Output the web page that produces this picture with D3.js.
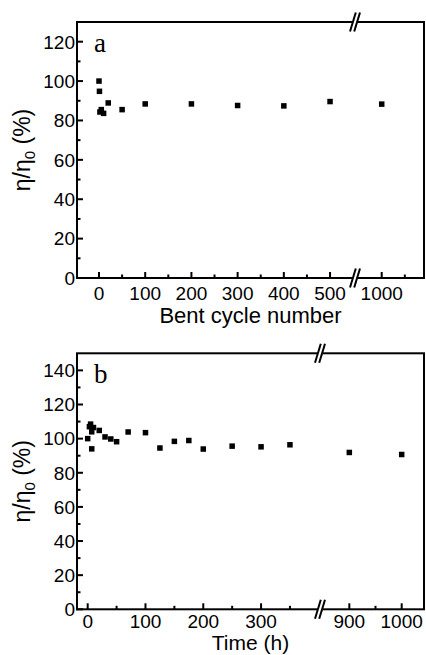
<!DOCTYPE html>
<html><head><meta charset="utf-8">
<script src="https://cdn.jsdelivr.net/npm/d3@7"></script>
<style>body{margin:0;background:#fff}svg{display:block}</style>
</head><body>
<svg id="c" width="426" height="655"></svg>
<script>
// Panel a data
const cyclesA = [0, 1, 2, 5, 10, 20, 50, 100, 200, 300, 400, 500, 1000];
const valuesA = [100, 94.8, 84.3, 85.5, 83.6, 88.9, 85.5, 88.4, 88.4, 87.6, 87.4, 89.6, 88.3];
const majorTicksXA = [0, 100, 200, 300, 400, 500, 1000];
const minorTicksXA = [50, 150, 250, 350, 450, 1050];
const majorTicksYA = [0, 20, 40, 60, 80, 100, 120];
const minorTicksYA = [10, 30, 50, 70, 90, 110];

// Panel b data
const timesB = [0, 3, 5, 7, 7, 10, 20, 30, 40, 50, 70, 100, 125, 150, 175, 200, 250, 300, 350, 900, 1000];
const valuesB = [100, 107, 108.5, 104, 94, 106.5, 104.8, 101, 99.8, 98.2, 103.9, 103.5, 94.5, 98.4, 98.9, 93.9, 95.6, 95.2, 96.4, 91.9, 90.7];
const majorTicksXB = [0, 100, 200, 300, 900, 1000];
const minorTicksXB = [50, 150, 250, 350, 950];
const majorTicksYB = [0, 20, 40, 60, 80, 100, 120, 140];
const minorTicksYB = [10, 30, 50, 70, 90, 110, 130];

const svg = d3.select("#c");
const FONT = "'Liberation Sans', Arial, sans-serif";

function panel(o) {
  const g = svg.append("g");
  const x = d3.scaleLinear().domain(o.xDomain).range(o.xRange);
  const y = d3.scaleLinear().domain(o.yDomain).range([o.bottom, o.top]);
  const L = o.xRange[0], R = o.xRange[o.xRange.length - 1], T = o.top, B = o.bottom;
  const brk = o.xRange[1];

  // ticks (inward)
  const tk = g.append("g").attr("stroke", "#000").attr("stroke-width", 2);
  o.majorX.forEach(v => tk.append("line").attr("x1", x(v)).attr("x2", x(v)).attr("y1", B).attr("y2", B - 6));
  o.minorX.forEach(v => tk.append("line").attr("x1", x(v)).attr("x2", x(v)).attr("y1", B).attr("y2", B - 3.5));
  o.majorY.forEach(v => tk.append("line").attr("x1", L - 1).attr("x2", L + 6).attr("y1", y(v)).attr("y2", y(v)));
  o.minorY.forEach(v => tk.append("line").attr("x1", L).attr("x2", L + 3.5).attr("y1", y(v)).attr("y2", y(v)));

  // frame
  g.append("rect").attr("x", L).attr("y", T).attr("width", R - L).attr("height", B - T)
    .attr("fill", "none").attr("stroke", "#000").attr("stroke-width", 2);

  // break marks
  [T, B].forEach(yy => {
    const dx = 2.9, dy = 9.5, off = 2.1;
    g.append("polygon")
      .attr("points", [[brk - off - dx, yy + dy], [brk - off + dx, yy - dy], [brk + off + dx, yy - dy], [brk + off - dx, yy + dy]].map(p => p.join(",")).join(" "))
      .attr("fill", "#fff");
    [-off, off].forEach(d => g.append("line")
      .attr("x1", brk + d - dx).attr("y1", yy + dy).attr("x2", brk + d + dx).attr("y2", yy - dy)
      .attr("stroke", "#000").attr("stroke-width", 2));
  });

  // tick labels
  o.majorX.forEach(v => g.append("text").attr("x", x(v)).attr("y", B + o.xLabelOff)
    .attr("text-anchor", "middle").attr("font-family", FONT).attr("font-size", 19).text(v));
  o.majorY.forEach(v => g.append("text").attr("x", L - 2).attr("y", y(v)).attr("dy", "0.36em")
    .attr("text-anchor", "end").attr("font-family", FONT).attr("font-size", 19).text(v));

  // axis titles
  g.append("text").attr("x", (L + R) / 2).attr("y", o.xTitleY).attr("text-anchor", "middle")
    .attr("font-family", FONT).attr("font-size", o.xTitleSize).text(o.xTitle);
  const yt = g.append("text").attr("transform", `translate(30,${(T + B) / 2}) rotate(-90)`)
    .attr("text-anchor", "middle").attr("font-family", FONT).attr("font-size", 23);
  yt.append("tspan").text("η/η");
  yt.append("tspan").attr("font-size", 15).attr("dy", 5).text("0");
  yt.append("tspan").attr("dy", -5).text(" (%)");

  // panel letter
  g.append("text").attr("x", L + 17).attr("y", o.letterY).attr("font-family", "'Liberation Serif', 'Times New Roman', serif")
    .attr("font-size", 27).text(o.letter);

  // points
  const s = 5.5;
  g.append("g").selectAll("rect").data(o.xs.map((d, i) => [d, o.ys[i]])).join("rect")
    .attr("x", d => x(d[0]) - s / 2).attr("y", d => y(d[1]) - s / 2)
    .attr("width", s).attr("height", s).attr("fill", "#000");
}

panel({
  xDomain: [-47.6, 554, 942.2, 1091.5], xRange: [77, 355, 355, 424],
  yDomain: [0, 130], top: 22, bottom: 278,
  majorX: majorTicksXA, minorX: minorTicksXA, majorY: majorTicksYA, minorY: minorTicksYA,
  xLabelOff: 22, xTitleY: 323, xTitleSize: 22, xTitle: "Bent cycle number",
  letter: "a", letterY: 52, xs: cyclesA, ys: valuesA
});

panel({
  xDomain: [-18.5, 402, 844, 1042.6], xRange: [77, 320, 320, 424],
  yDomain: [0, 150], top: 353.3, bottom: 609.3,
  majorX: majorTicksXB, minorX: minorTicksXB, majorY: majorTicksYB, minorY: minorTicksYB,
  xLabelOff: 18.5, xTitleY: 650.3, xTitleSize: 21, xTitle: "Time (h)",
  letter: "b", letterY: 383, xs: timesB, ys: valuesB
});
</script>
</body></html>
